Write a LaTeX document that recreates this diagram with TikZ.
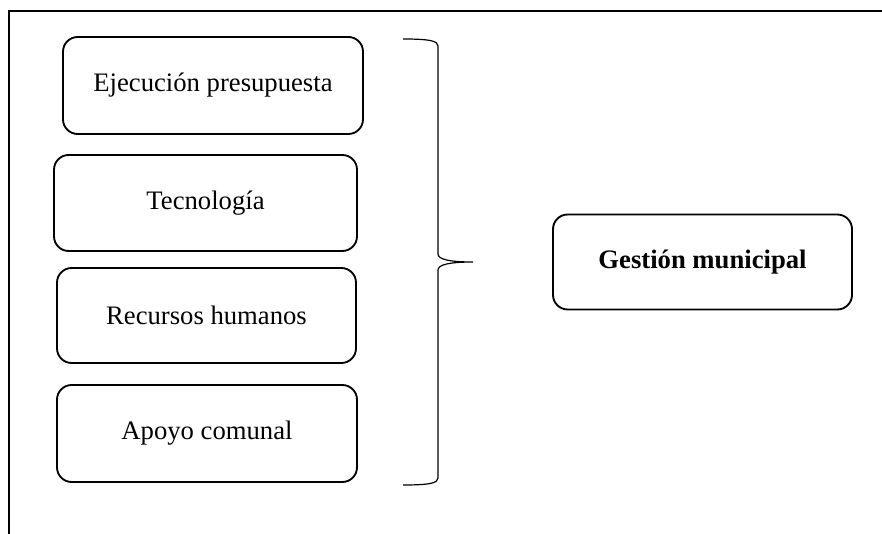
\documentclass[tikz,border=0pt]{standalone}
\usepackage{fontspec}
\setmainfont{Liberation Serif}
\usepackage{tikz}

\tikzset{
	caja/.style={draw, rounded corners=11pt, line width=1.4pt, align=center,
		inner sep=0pt, font=\fontsize{20}{24}\selectfont},
}

\begin{document}
\begin{tikzpicture}[x=0.75pt,y=-0.75pt]
			% Fix the page size
			\useasboundingbox (0,0) rectangle (882,534);
			
			% Draw the outer frame
			\draw[line width=2pt] (9,534) -- (9,11) -- (882,11);
			
			% Draw the factor boxes
			\node[caja, minimum width=225pt, minimum height=72.75pt] (ejec) at (213,85.5) {Ejecución presupuesta};
			\node[caja, minimum width=227.25pt, minimum height=72pt] (tecn) at (205.5,203) {Tecnología};
			\node[caja, minimum width=224.25pt, minimum height=71.25pt] (recu) at (206.5,315.5) {Recursos humanos};
			\node[caja, minimum width=225pt, minimum height=72.75pt] (apoy) at (207,433.5) {Apoyo comunal};
			
			% Draw the result box
			\node[caja, minimum width=224.25pt, minimum height=71.25pt] (gest) at (702.5,262) {\textbf{Gestión municipal}};
			
			% Draw the brace
			\coordinate (btop) at (403,39);
			\coordinate (bbot) at (403,485);
			\coordinate (btip) at (473,262);
			\draw[line width=0.9pt] (btop) .. controls (430,39) and (438,41) .. (438,46)
				-- (438,254) .. controls (438,259) and (448,262) .. (btip)
				.. controls (448,262) and (438,265) .. (438,270)
				-- (438,478) .. controls (438,483) and (430,485) .. (bbot);
		\end{tikzpicture}
\end{document}
